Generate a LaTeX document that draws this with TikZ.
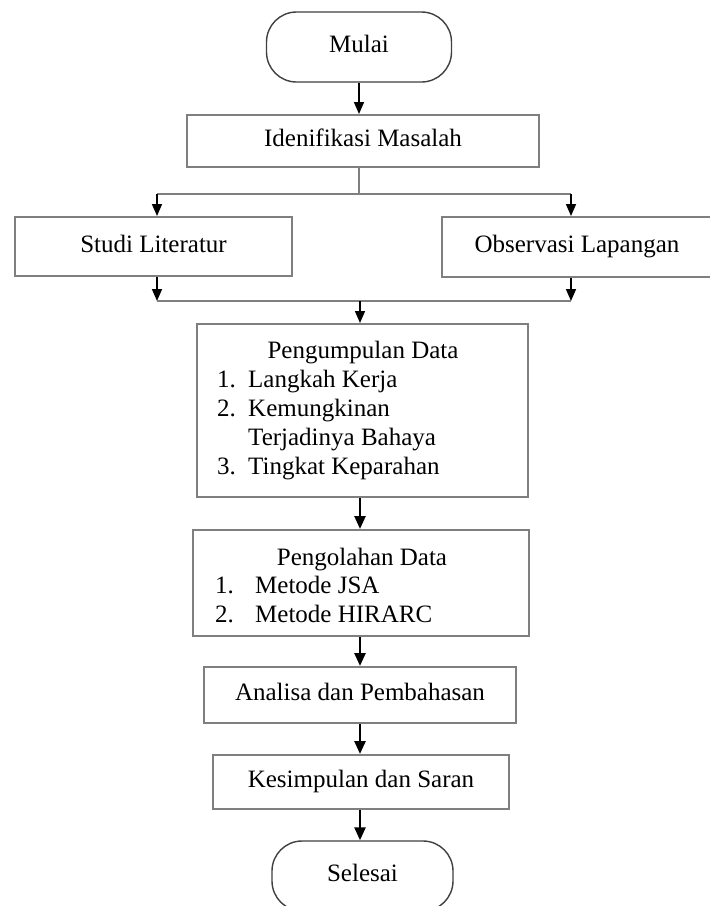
\documentclass[tikz,border=0pt]{standalone}
\usepackage{fontspec}
\setmainfont{Liberation Serif}
\usetikzlibrary{arrows.meta}
\definecolor{linegray}{HTML}{7F7F7F}
\definecolor{termgray}{HTML}{404040}
\begin{document}
\begin{tikzpicture}[x=1pt,y=-1pt,
  box/.style={draw=linegray, line width=2pt, inner sep=0pt, text height=17pt, text depth=6pt, font=\fontsize{25}{29}\selectfont},
  term/.style={draw=termgray, line width=1.4pt, rounded corners=30pt, inner sep=0pt, text height=17pt, text depth=6pt, font=\fontsize{25}{29}\selectfont},
  txt/.style={inner sep=0pt, font=\fontsize{25}{29}\selectfont},
  arr/.style={-{Triangle[length=12pt,width=10pt]}, line width=1.6pt, black},
  arrb/.style={-{Triangle[length=13pt,width=11pt]}, line width=2.6pt, black},
  ln/.style={draw=linegray, line width=2pt},
]
\useasboundingbox (0,0) rectangle (710,906);
\clip (0,0) rectangle (710,906);
\fill[white] (0,0) rectangle (710,906);

% nodes
\node[term, minimum width=185pt, minimum height=70pt] (mulai) at (359,47) {Mulai};
\node[box, minimum width=352pt, minimum height=52pt] (idf) at (363,141) {Idenifikasi Masalah};
\node[box, minimum width=277pt, minimum height=59pt] (studi) at (153.5,246.5) {Studi Literatur};
\node[box, minimum width=270pt, minimum height=60pt] (obs) at (577,247) {Observasi Lapangan};
\node[box, minimum width=331pt, minimum height=173pt] (pgm) at (362.5,410.5) {};
\node[box, minimum width=336pt, minimum height=106pt] (pgl) at (361,583) {};
\node[box, minimum width=312pt, minimum height=56pt] (ana) at (360,695) {Analisa dan Pembahasan};
\node[box, minimum width=296pt, minimum height=54pt] (kes) at (361,782) {Kesimpulan dan Saran};
\node[term, minimum width=181pt, minimum height=70pt] (sel) at (362.5,876) {Selesai};

% text of Pengumpulan Data
\node[txt, anchor=base] (pgmt) at (363,358) {Pengumpulan Data};
\node[txt, anchor=base west] (pgm1n) at (217,387) {1.};
\node[txt, anchor=base west] (pgm1) at (248,387) {Langkah Kerja};
\node[txt, anchor=base west] (pgm2n) at (217,416) {2.};
\node[txt, anchor=base west] (pgm2) at (248,416) {Kemungkinan};
\node[txt, anchor=base west] (pgm2b) at (248,445) {Terjadinya Bahaya};
\node[txt, anchor=base west] (pgm3n) at (217,474) {3.};
\node[txt, anchor=base west] (pgm3) at (248,474) {Tingkat Keparahan};

% text of Pengolahan Data
\node[txt, anchor=base] (pglt) at (362,565) {Pengolahan Data};
\node[txt, anchor=base west] (pgl1n) at (215,593) {1.};
\node[txt, anchor=base west] (pgl1) at (255,593) {Metode JSA};
\node[txt, anchor=base west] (pgl2n) at (215,622) {2.};
\node[txt, anchor=base west] (pgl2) at (255,622) {Metode HIRARC};

% connectors
\coordinate (split) at (359,194);
\coordinate (bl) at (157,194);
\coordinate (br) at (571,194);
\coordinate (ml) at (157,301);
\coordinate (mr) at (571,301);
\coordinate (mc) at (360,301);

\draw[arr] (mulai.south) -- (mulai.south |- idf.north);
\draw[ln] (idf.south -| split) -- (split);
\draw[ln] (bl) -- (br);
\draw[arr] (bl) -- (bl |- studi.north);
\draw[arr] (br) -- (br |- obs.north);
\draw[arr] (studi.south -| ml) -- (ml);
\draw[arr] (obs.south -| mr) -- (mr);
\draw[ln] (ml) -- (mr);
\draw[arr] (mc) -- (mc |- pgm.north);
\draw[arrb] (pgm.south -| mc) -- (mc |- pgl.north);
\draw[arrb] (pgl.south -| mc) -- (mc |- ana.north);
\draw[arrb] (ana.south -| mc) -- (mc |- kes.north);
\draw[arrb] (kes.south -| mc) -- (mc |- sel.north);
\end{tikzpicture}
\end{document}
